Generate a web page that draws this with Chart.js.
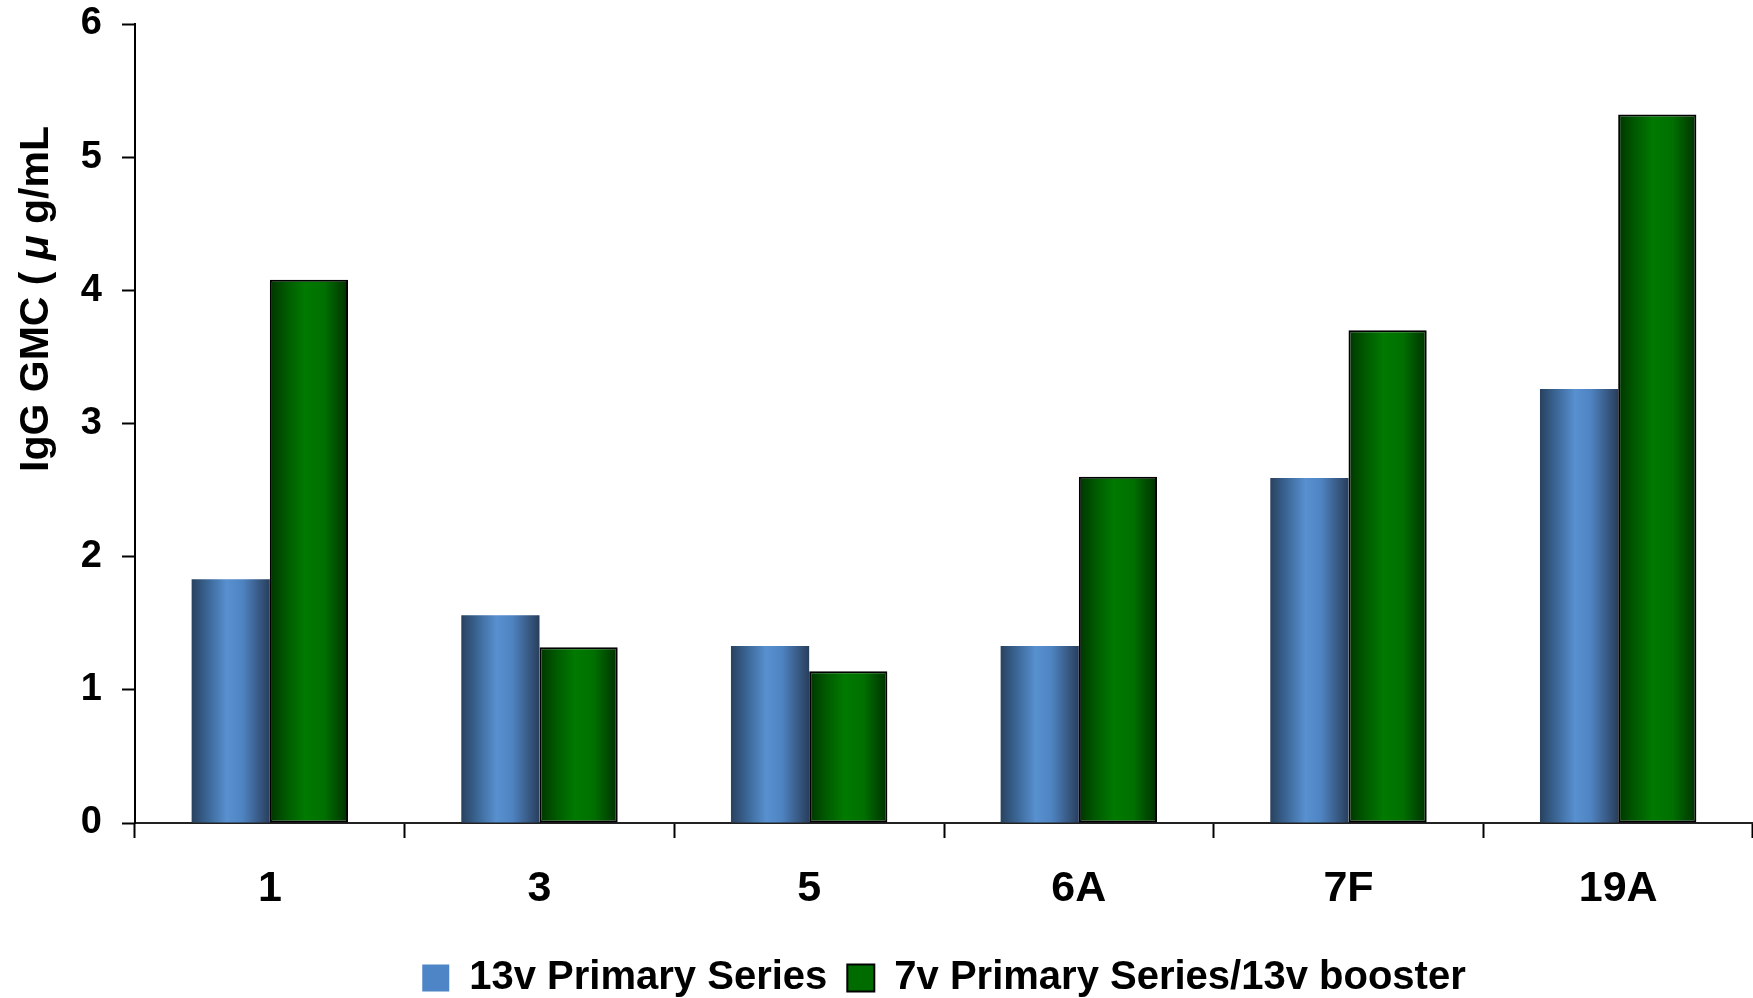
<!DOCTYPE html>
<html>
<head>
<meta charset="utf-8">
<script src="https://cdn.jsdelivr.net/npm/chart.js@4/dist/chart.umd.min.js"></script>
<style>
    body { margin: 0; background: #fff; }
    #wrap { width: 1753px; height: 998px; position: relative; }
</style>
</head>
<body>
<div id="wrap"><canvas id="gmcChart"></canvas></div>
<script>
// Serotypes and IgG GMC values (µg/mL)
const serotypes = ['1', '3', '5', '6A', '7F', '19A'];
const primary13v = [1.83, 1.56, 1.33, 1.33, 2.59, 3.26];
const booster13v = [4.08, 1.32, 1.14, 2.60, 3.70, 5.32];
const yTicks = [0, 1, 2, 3, 4, 5, 6];

const CAT_PCT = 0.58;
const FONT = '"Liberation Sans", Arial, sans-serif';

// horizontal shading across each bar, built from the category scale
function barShade(stops) {
    return (c) => {
        const chart = c.chart;
        const xs = chart.scales.x;
        if (!chart.chartArea || !xs || c.dataIndex === undefined) return stops[2][1];
        const group = xs.width / serotypes.length * CAT_PCT;
        const center = xs.getPixelForValue(c.dataIndex);
        const left = center - group / 2 + c.datasetIndex * group / 2;
        const g = chart.ctx.createLinearGradient(left, 0, left + group / 2, 0);
        stops.forEach(([pos, col]) => g.addColorStop(pos, col));
        return g;
    };
}

const blueStops = [[0, '#29425f'], [0.2, '#3a6594'], [0.45, '#5890d0'], [0.65, '#4f84c2'], [1, '#283e5c']];
const greenStops = [[0, '#003400'], [0.2, '#005800'], [0.45, '#007a00'], [0.7, '#007000'], [1, '#003000']];
const legendFill = ['#4d85c6', '#006c00'];

// rotated y-axis title, with the mu set in italic
const yTitle = {
    id: 'yTitle',
    afterDraw(chart) {
        const ctx = chart.ctx;
        const parts = [
            ['bold 41px ' + FONT, 'IgG GMC ( '],
            ['italic bold 41px ' + FONT, 'μ'],
            ['bold 41px ' + FONT, ' g/mL']
        ];
        let total = 0;
        parts.forEach(p => { ctx.font = p[0]; total += ctx.measureText(p[1]).width; });
        ctx.save();
        ctx.translate(37, 299);
        ctx.rotate(-Math.PI / 2);
        ctx.fillStyle = '#000';
        ctx.textBaseline = 'middle';
        let x = -total / 2;
        parts.forEach(p => {
            ctx.font = p[0];
            ctx.fillText(p[1], x, 0);
            x += ctx.measureText(p[1]).width;
        });
        ctx.restore();
    }
};

const ctx = document.getElementById('gmcChart').getContext('2d');
const gmcChart = new Chart(ctx, {
    type: 'bar',
    data: {
        labels: serotypes,
        datasets: [{
            label: '13v Primary Series',
            data: primary13v,
            backgroundColor: barShade(blueStops),
            borderWidth: 0
        },
            {
                label: '7v Primary Series/13v booster',
                data: booster13v,
                backgroundColor: barShade(greenStops),
                borderColor: '#000',
                borderWidth: 2,
                borderSkipped: false
            }]
    },
    options: {
        responsive: true,
        maintainAspectRatio: false,
        animation: false,
        events: [],
        datasets: {
            bar: { barPercentage: 1, categoryPercentage: CAT_PCT }
        },
        layout: { padding: { top: 24, right: 0, left: 0, bottom: -10 } },
        plugins: {
            legend: {
                position: 'bottom',
                fullSize: false,
                labels: {
                    color: '#000',
                    font: { family: FONT, size: 40, weight: 'bold' },
                    boxWidth: 27,
                    boxHeight: 27,
                    padding: 20,
                    generateLabels: chart => Chart.defaults.plugins.legend.labels.generateLabels(chart)
                        .map((item, i) => Object.assign(item, { fillStyle: legendFill[i] }))
                }
            },
            tooltip: { enabled: false }
        },
        scales: {
            x: {
                grid: {
                    drawOnChartArea: false,
                    drawTicks: true,
                    tickLength: 15,
                    tickWidth: 2,
                    tickColor: '#000'
                },
                border: { display: true, color: '#222', width: 2 },
                ticks: {
                    color: '#000',
                    padding: 25,
                    font: { family: FONT, size: 43, weight: 'bold' }
                },
                afterFit: s => { s.height = 115; }
            },
            y: {
                min: 0,
                max: 6,
                afterBuildTicks: s => { s.ticks = yTicks.map(v => ({ value: v })); },
                grid: {
                    drawOnChartArea: false,
                    drawTicks: true,
                    tickLength: 13,
                    tickWidth: 2,
                    tickColor: '#000'
                },
                border: { display: true, color: '#000', width: 2 },
                ticks: {
                    color: '#000',
                    padding: 20,
                    font: { family: FONT, size: 38, weight: 'bold' }
                },
                afterFit: s => {
                    s.width = 135;
                    s.paddingTop = 0;
                    s.paddingBottom = 0;
                }
            }
        }
    },
    plugins: [yTitle]
});
</script>
</body>
</html>
